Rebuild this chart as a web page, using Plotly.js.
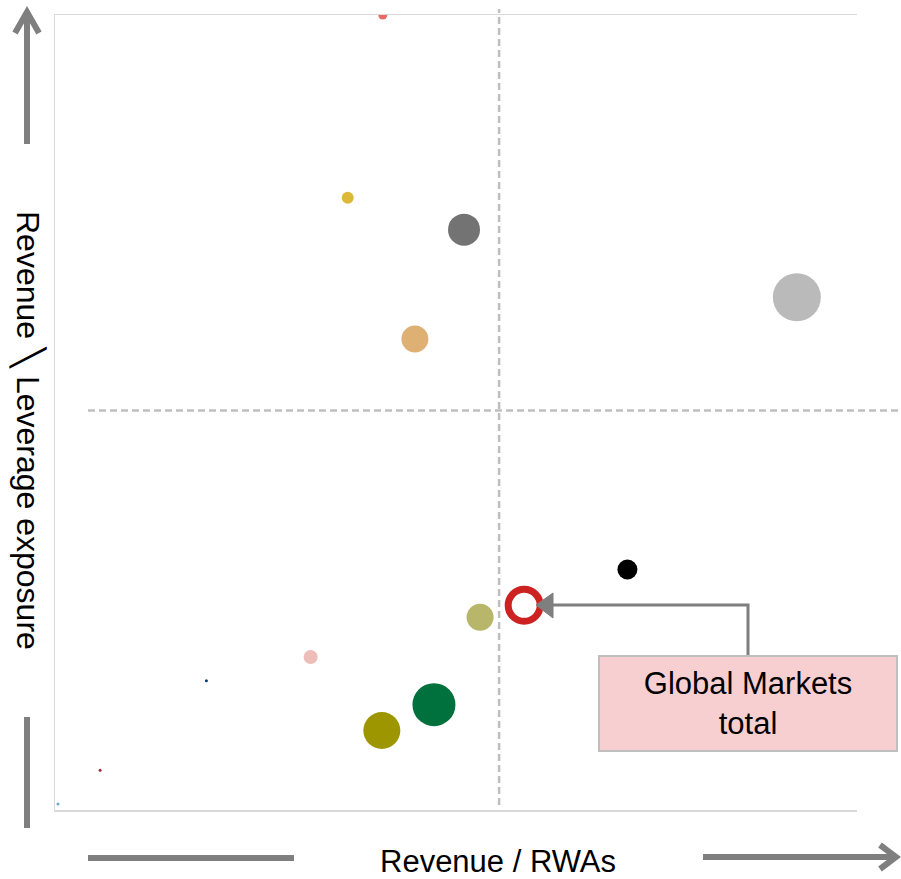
<!DOCTYPE html>
<html>
<head>
<meta charset="utf-8">
<script src="https://cdn.plot.ly/plotly-3.0.1.min.js"></script>
<style>
  html, body { margin: 0; padding: 0; background: #ffffff; }
  #chart { width: 901px; height: 879px; }
</style>
</head>
<body>
<div id="chart"></div>
<script>
// Business lines: revenue / RWAs (x) vs revenue / leverage exposure (y), bubble = size of business
var revenueToRwa      = [3.27, 2.92, 4.08, 3.59, 7.40, 5.71, 4.24, 2.55, 3.78, 3.26, 1.51, 0.45, 0.03];
var revenueToLeverage = [4.00, 3.08, 2.92, 2.37, 2.58, 1.21, 0.97, 0.77, 0.53, 0.40, 0.65, 0.20, 0.03];
var businessSize      = [9, 12, 32, 27, 48, 20, 27, 14, 43, 37, 3, 3, 3];
var businessColor     = ['#E86A66', '#DDB93A', '#737373', '#DEB073', '#BABABA', '#000000',
                         '#B8B66A', '#EFBDB8', '#00703C', '#9E9600', '#003F7F', '#A0283C', '#6FA8C8'];

// Global Markets total
var totalRevenueToRwa      = [4.68];
var totalRevenueToLeverage = [1.03];

// Quadrant thresholds
var rwaThreshold      = 4.43;
var leverageThreshold = 2.01;

var xRange = [0, 8];
var yRange = [0, 4];

// plot area geometry (pixels) used for the decorative arrows around the axes
var W = 901, H = 879;
var M = { l: 55, r: 44, t: 15, b: 69 };
var plotW = W - M.l - M.r, plotH = H - M.t - M.b;
function px(x) { return (x - M.l) / plotW; }
function py(y) { return (H - M.b - y) / plotH; }

var grey = '#7F7F7F';
var textFont = 'Liberation Sans, Arial, sans-serif';

var traces = [
  {
    type: 'scatter', mode: 'markers',
    x: revenueToRwa, y: revenueToLeverage,
    marker: { size: businessSize, color: businessColor, line: { width: 0 }, opacity: 1 },
    hoverinfo: 'x+y',
    cliponaxis: true
  },
  {
    type: 'scatter', mode: 'markers',
    x: totalRevenueToRwa, y: totalRevenueToLeverage,
    marker: { size: 32, color: '#FFFFFF', line: { width: 7, color: '#CC2222' } },
    hoverinfo: 'x+y',
    cliponaxis: true
  }
];

var shapes = [
  // quadrant dividers
  { type: 'line', xref: 'x', yref: 'paper', x0: rwaThreshold, x1: rwaThreshold, y0: py(805), y1: py(9),
    line: { color: '#BFBFBF', width: 2.5, dash: '7px,4px' } },
  { type: 'line', xref: 'paper', yref: 'y', x0: px(88), x1: px(901), y0: leverageThreshold, y1: leverageThreshold,
    line: { color: '#BFBFBF', width: 2.5, dash: '7px,4px' } },

  // vertical axis arrow
  { type: 'line', xref: 'paper', yref: 'paper', x0: px(27), x1: px(27), y0: py(144), y1: py(13),
    line: { color: grey, width: 6 } },
  { type: 'path', xref: 'paper', yref: 'paper',
    path: 'M ' + px(15) + ',' + py(33) + ' L ' + px(27) + ',' + py(12) + ' L ' + px(39) + ',' + py(33),
    line: { color: grey, width: 6 } },
  { type: 'line', xref: 'paper', yref: 'paper', x0: px(27), x1: px(27), y0: py(717), y1: py(828),
    line: { color: grey, width: 6 } },

  // horizontal axis arrow
  { type: 'line', xref: 'paper', yref: 'paper', x0: px(88), x1: px(294), y0: py(858), y1: py(858),
    line: { color: grey, width: 6 } },
  { type: 'line', xref: 'paper', yref: 'paper', x0: px(703), x1: px(894), y0: py(857), y1: py(857),
    line: { color: grey, width: 6 } },
  { type: 'path', xref: 'paper', yref: 'paper',
    path: 'M ' + px(880) + ',' + py(845) + ' L ' + px(896) + ',' + py(857) + ' L ' + px(880) + ',' + py(869),
    line: { color: grey, width: 6 } },

  // elbow connector from the label to the total
  { type: 'path', xref: 'paper', yref: 'paper',
    path: 'M ' + px(748) + ',' + py(655) + ' L ' + px(748) + ',' + py(605) + ' L ' + px(552) + ',' + py(605),
    line: { color: grey, width: 3 } },
  { type: 'path', xref: 'paper', yref: 'paper',
    path: 'M ' + px(536) + ',' + py(605) + ' L ' + px(553) + ',' + py(593) + ' L ' + px(553) + ',' + py(618) + ' Z',
    fillcolor: grey, line: { color: grey, width: 1 } }
];

var annotations = [
  {
    xref: 'paper', yref: 'paper', x: px(748), y: py(703.5),
    xanchor: 'center', yanchor: 'middle', showarrow: false,
    text: 'Global Markets<br>total', align: 'center',
    font: { family: textFont, size: 31, color: '#000000' },
    bgcolor: '#F8CFD0', bordercolor: '#BFBFBF', borderwidth: 2, borderpad: 2,
    width: 292, height: 89
  },
  {
    xref: 'paper', yref: 'paper', x: px(498), y: py(861),
    xanchor: 'center', yanchor: 'middle', showarrow: false,
    text: 'Revenue / RWAs',
    font: { family: textFont, size: 31, color: '#000000' }
  },
  {
    xref: 'paper', yref: 'paper', x: px(28), y: py(430),
    xanchor: 'center', yanchor: 'middle', showarrow: false, textangle: 90,
    text: 'Revenue ╲ Leverage exposure',
    font: { family: textFont, size: 32, color: '#000000' }
  }
];

var layout = {
  width: W, height: H,
  margin: M,
  paper_bgcolor: '#FFFFFF', plot_bgcolor: '#FFFFFF',
  showlegend: false,
  xaxis: {
    range: xRange, showgrid: false, zeroline: false, showticklabels: false, ticks: '',
    showline: true, mirror: true, linecolor: '#D9D9D9', linewidth: 1.5, fixedrange: true
  },
  yaxis: {
    range: yRange, showgrid: false, zeroline: false, showticklabels: false, ticks: '',
    showline: true, mirror: false, linecolor: '#D9D9D9', linewidth: 1.5, fixedrange: true
  },
  shapes: shapes,
  annotations: annotations
};

Plotly.newPlot('chart', traces, layout, { displayModeBar: false, staticPlot: true });
</script>
</body>
</html>
